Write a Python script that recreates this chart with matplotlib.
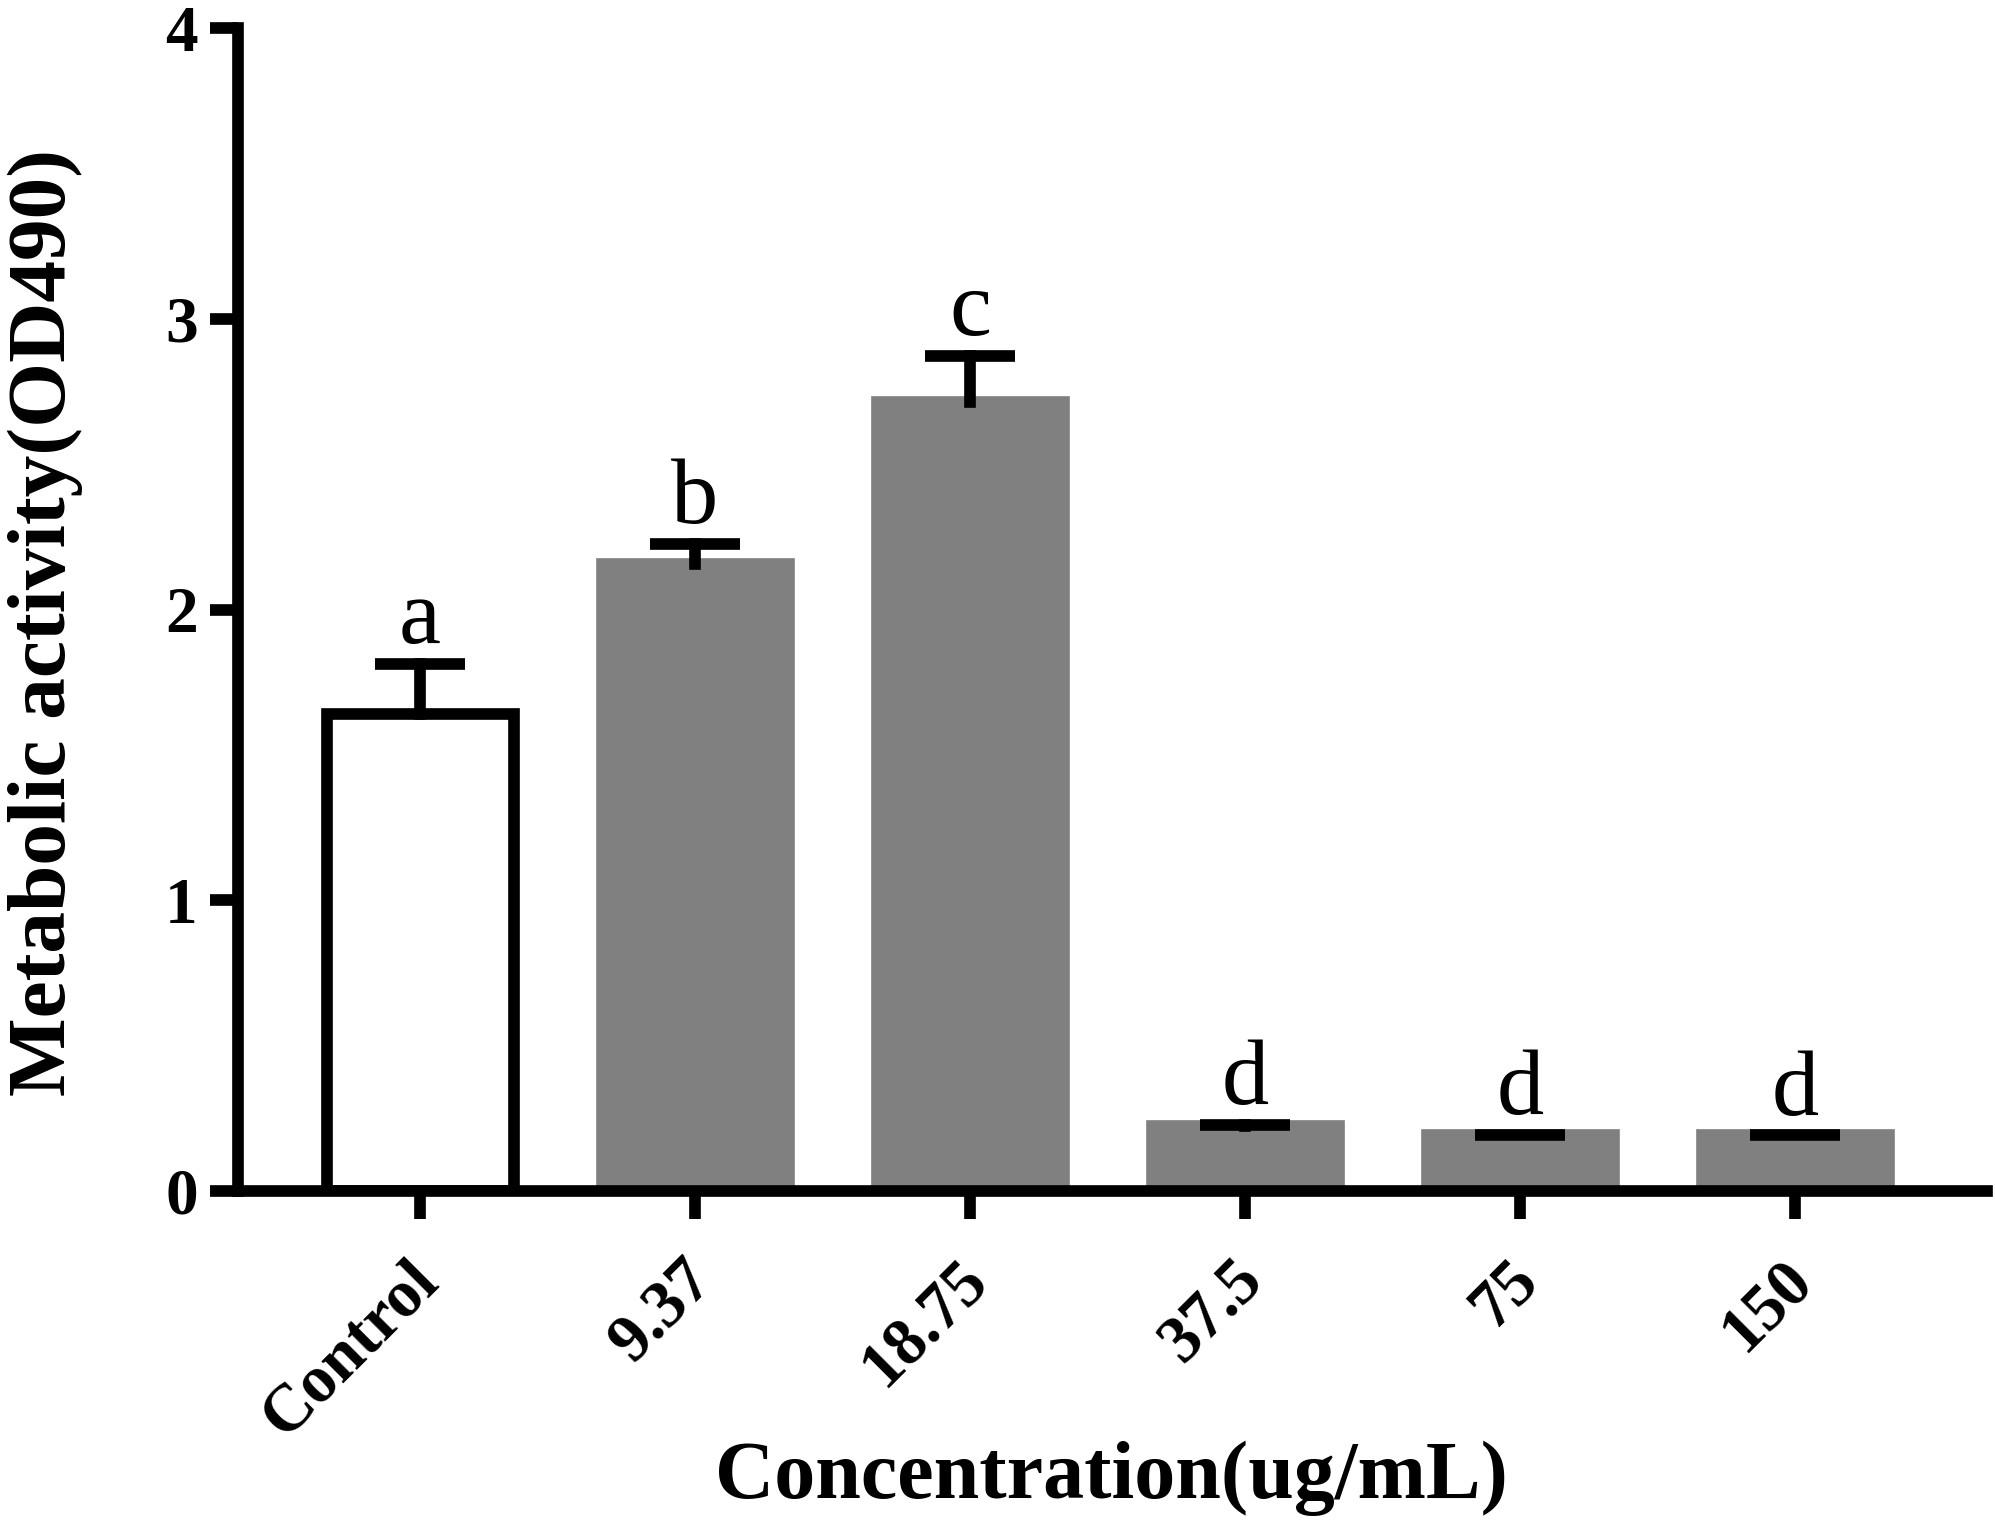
import matplotlib
matplotlib.use("Agg")
import matplotlib.pyplot as plt
import matplotlib.transforms as mtransforms
import numpy as np

# ---- data ----
categories = ["Control", "9.37", "18.75", "37.5", "75", "150"]
means = [1.64, 2.156, 2.715, 0.222, 0.194, 0.191]
errors = [0.174, 0.07, 0.156, 0.005, 0.0, 0.0]
letters = ["a", "b", "c", "d", "d", "d"]
face_colors = ["white", "#808080", "#808080", "#808080", "#808080", "#808080"]
edge_colors = ["black", "#808080", "#808080", "#808080", "#808080", "#808080"]
y_ticks = [0, 1, 2, 3, 4]
x_label = "Concentration(ug/mL)"
y_label = "Metabolic activity(OD490)"

W, H = 1995, 1524
DPI = 100
fig = plt.figure(figsize=(W / DPI, H / DPI), dpi=DPI)
fig.patch.set_facecolor("white")

ax_left, ax_right, ax_top, ax_bottom = 238, 1987, 28, 1191
ax = fig.add_axes([ax_left / W, 1 - ax_bottom / H,
                   (ax_right - ax_left) / W, (ax_bottom - ax_top) / H])

serif = ["Liberation Serif", "DejaVu Serif"]
x = np.arange(len(categories))
means_a = np.array(means)
errs_a = np.array(errors)
LW = 8.4
CAP_HALF = 0.164

ax.bar(x, means_a, width=0.68, color=face_colors, edgecolor=edge_colors,
       linewidth=LW, zorder=2)

# one-sided (upper) error bars
ax.vlines(x, means_a, means_a + errs_a, colors="black", linewidth=LW,
          zorder=3, capstyle="projecting")
ax.hlines(means_a + errs_a, x - CAP_HALF, x + CAP_HALF, colors="black",
          linewidth=LW, zorder=3, capstyle="butt")

for xi, m, e, lt in zip(x, means_a, errs_a, letters):
    ax.annotate(lt, xy=(xi, m + e), xytext=(0, 15), textcoords="offset points",
                ha="center", va="baseline", fontsize=68, family=serif,
                fontweight="normal", zorder=4)

ax.set_xlim(-0.662, 5.698)
ax.set_ylim(0, 4)
ax.set_yticks(y_ticks)
ax.set_yticklabels([str(t) for t in y_ticks])
ax.set_xticks(x)
ax.set_xticklabels(categories)

for s in ["top", "right"]:
    ax.spines[s].set_visible(False)
for s in ["left", "bottom"]:
    ax.spines[s].set_linewidth(LW)
    ax.spines[s].set_color("black")

ax.tick_params(axis="both", direction="out", length=20, width=LW, color="black")
ax.tick_params(axis="y", pad=9)
ax.tick_params(axis="x", pad=22)

for lab in ax.get_yticklabels():
    lab.set_fontsize(47)
    lab.set_fontweight("bold")
    lab.set_family(serif)

offset = mtransforms.ScaledTranslation(-13 / DPI, 0, fig.dpi_scale_trans)
for lab in ax.get_xticklabels():
    lab.set_fontsize(48)
    lab.set_fontweight("bold")
    lab.set_family(serif)
    lab.set_rotation(45)
    lab.set_ha("right")
    lab.set_va("top")
    lab.set_rotation_mode("anchor")
    lab.set_transform(lab.get_transform() + offset)

fig.text(1111 / W, 1 - 1498 / H, x_label, ha="center", va="baseline",
         fontsize=59, fontweight="bold", family=serif)
fig.text(45 / W, 1 - 622 / H, y_label, ha="center", va="center", rotation=90,
         fontsize=60, fontweight="bold", family=serif)

fig.savefig("out.png", dpi=DPI, facecolor="white")
